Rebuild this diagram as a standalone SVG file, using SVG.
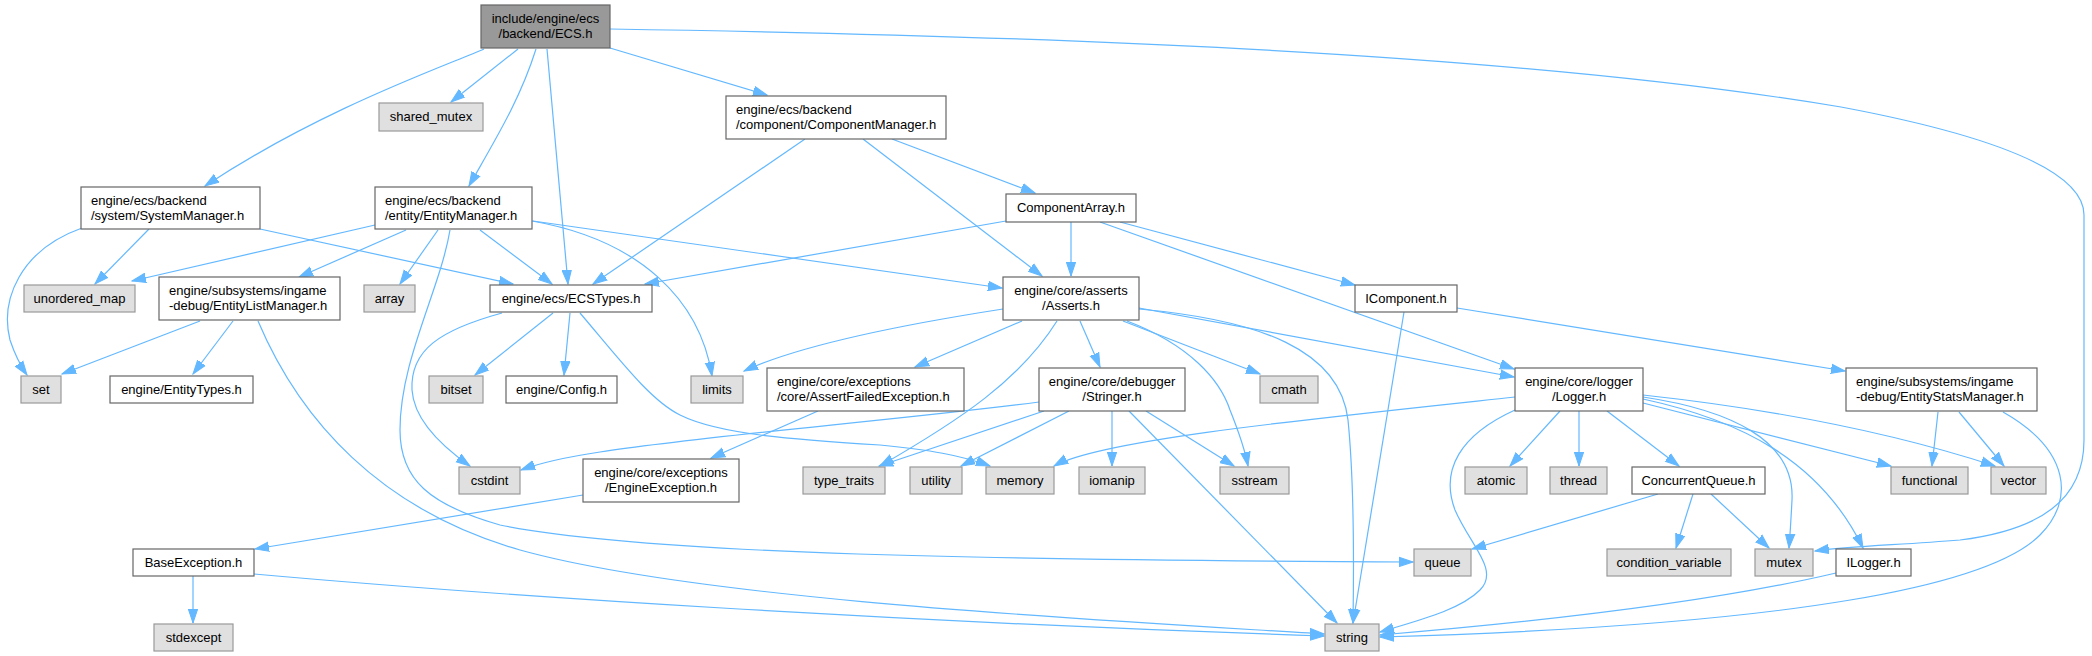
<svg xmlns="http://www.w3.org/2000/svg" width="2092" height="656" viewBox="0 0 2092 656">
<style>
text{font-family:"Liberation Sans",Arial,sans-serif;font-size:13px;fill:#000}
.c{text-anchor:middle}
.n rect{fill:#fff;stroke:#666;stroke-width:1.2}
.x rect{fill:#e0e0e0;stroke:#999;stroke-width:1.2}
.r rect{fill:#999;stroke:#666;stroke-width:1.2}
#edges path{fill:none;stroke:#63b8ff;stroke-width:1.2;marker-end:url(#a)}
</style>
<defs>
<marker id="a" markerWidth="15" markerHeight="11" refX="14" refY="5.5" orient="auto" markerUnits="userSpaceOnUse">
<path d="M0,0.8 L14,5.5 L0,10.2 z" fill="#63b8ff" stroke="#63b8ff" stroke-width="1"/>
</marker>
</defs>
<rect width="2092" height="656" fill="#fff"/>
<g id="edges">
<path d="M484,49 C440,68 320,110 205,186"/>
<path d="M518,49 L451,102"/>
<path d="M536,49 C520,100 495,140 469,186"/>
<path d="M547,49 L568,284"/>
<path d="M610,48 L767,95"/>
<path d="M610,29 C1000,35 1500,50 1841,107 C1990,135 2084,170 2084,215 L2084,440 C2084,500 2040,530 1960,540 C1900,545 1850,546 1815,551"/>
<path d="M149,229 L95,284"/>
<path d="M82,228 C20,250 0,300 10,340 C15,355 20,365 27,375"/>
<path d="M260,229 L513,284"/>
<path d="M375,225 L132,281"/>
<path d="M406,230 L299,277"/>
<path d="M438,230 L400,284"/>
<path d="M480,230 L552,284"/>
<path d="M532,221 C640,240 700,300 712,376"/>
<path d="M533,221 L1002,288"/>
<path d="M450,230 C440,290 400,360 400,430 C400,480 430,505 500,525 C650,555 1000,560 1413,562"/>
<path d="M200,321 L62,374"/>
<path d="M233,321 L193,374"/>
<path d="M258,321 C300,420 380,510 520,550 C700,600 1100,620 1324,634"/>
<path d="M502,313 C440,330 410,350 412,390 C414,420 440,445 470,466"/>
<path d="M553,313 L475,375"/>
<path d="M570,313 L564,375"/>
<path d="M580,313 C620,360 650,400 680,415 C720,435 800,440 880,445 C930,450 960,455 990,466"/>
<path d="M805,139 L593,284"/>
<path d="M863,139 L1042,276"/>
<path d="M892,139 L1035,193"/>
<path d="M1006,221 L645,284"/>
<path d="M1071,222 L1071,276"/>
<path d="M1120,222 L1355,285"/>
<path d="M1100,222 L1514,369"/>
<path d="M1404,312 L1353,623"/>
<path d="M1457,308 L1845,371"/>
<path d="M1003,309 C900,325 800,345 744,371"/>
<path d="M1022,321 L915,367"/>
<path d="M1057,321 C1020,380 960,420 880,466"/>
<path d="M1080,321 L1100,367"/>
<path d="M1123,321 L1260,374"/>
<path d="M1127,321 C1190,345 1220,380 1230,410 C1240,435 1245,450 1248,466"/>
<path d="M1139,309 C1260,320 1340,350 1348,420 C1354,480 1354,560 1353,623"/>
<path d="M1139,308 L1514,377"/>
<path d="M1039,402 C900,420 700,436 600,452 C560,458 540,463 521,470"/>
<path d="M1044,411 L879,466"/>
<path d="M1069,411 L961,466"/>
<path d="M1112,411 L1112,466"/>
<path d="M1146,411 L1234,466"/>
<path d="M1129,411 L1337,623"/>
<path d="M818,411 L711,458"/>
<path d="M583,495 L255,549"/>
<path d="M193,576 L193,623"/>
<path d="M254,574 C500,596 900,622 1324,636"/>
<path d="M1515,397 C1300,420 1100,440 1054,466"/>
<path d="M1515,410 C1460,435 1440,470 1455,510 C1470,545 1500,570 1480,590 C1460,610 1420,620 1380,632"/>
<path d="M1560,411 L1510,466"/>
<path d="M1579,411 L1579,466"/>
<path d="M1607,411 L1679,466"/>
<path d="M1643,397 C1730,410 1795,440 1792,500 C1791,520 1790,535 1789,548"/>
<path d="M1643,399 C1740,420 1820,460 1863,548"/>
<path d="M1643,403 L1891,466"/>
<path d="M1643,395 C1780,410 1900,435 1995,466"/>
<path d="M1658,494 L1472,549"/>
<path d="M1693,494 L1676,548"/>
<path d="M1711,494 L1769,548"/>
<path d="M1836,573 C1700,605 1500,625 1380,635"/>
<path d="M1938,412 L1932,466"/>
<path d="M1959,412 L2004,466"/>
<path d="M2003,412 C2070,450 2075,500 2040,535 C1990,585 1800,625 1380,637"/>
</g>
<g id="ecs" class="r"><rect x="481" y="5" width="129" height="43"/><text class="c" x="545.5" y="23">include/engine/ecs</text><text class="c" x="545.5" y="38">/backend/ECS.h</text></g>
<g id="shared_mutex" class="x"><rect x="379" y="103" width="104" height="28"/><text class="c" x="431" y="121">shared_mutex</text></g>
<g id="systemmanager" class="n"><rect x="81" y="187" width="179" height="42"/><text x="91" y="205">engine/ecs/backend</text><text x="91" y="220">/system/SystemManager.h</text></g>
<g id="entitymanager" class="n"><rect x="375" y="187" width="157" height="42"/><text x="385" y="205">engine/ecs/backend</text><text x="385" y="220">/entity/EntityManager.h</text></g>
<g id="componentmanager" class="n"><rect x="726" y="96" width="220" height="43"/><text x="736" y="114">engine/ecs/backend</text><text x="736" y="129">/component/ComponentManager.h</text></g>
<g id="unordered_map" class="x"><rect x="24" y="285" width="111" height="27"/><text class="c" x="79.5" y="303">unordered_map</text></g>
<g id="entitylistmanager" class="n"><rect x="159" y="277" width="181" height="43"/><text x="169" y="295">engine/subsystems/ingame</text><text x="169" y="310">-debug/EntityListManager.h</text></g>
<g id="array" class="x"><rect x="364" y="285" width="51" height="27"/><text class="c" x="389.5" y="303">array</text></g>
<g id="ecstypes" class="n"><rect x="490" y="285" width="162" height="27"/><text class="c" x="571" y="303">engine/ecs/ECSTypes.h</text></g>
<g id="componentarray" class="n"><rect x="1006" y="194" width="130" height="28"/><text class="c" x="1071" y="212">ComponentArray.h</text></g>
<g id="asserts" class="n"><rect x="1003" y="277" width="136" height="43"/><text class="c" x="1071" y="295">engine/core/asserts</text><text class="c" x="1071" y="310">/Asserts.h</text></g>
<g id="icomponent" class="n"><rect x="1355" y="285" width="102" height="27"/><text class="c" x="1406" y="303">IComponent.h</text></g>
<g id="set" class="x"><rect x="21" y="376" width="40" height="27"/><text class="c" x="41" y="394">set</text></g>
<g id="entitytypes" class="n"><rect x="110" y="376" width="143" height="27"/><text class="c" x="181.5" y="394">engine/EntityTypes.h</text></g>
<g id="bitset" class="x"><rect x="429" y="376" width="54" height="27"/><text class="c" x="456" y="394">bitset</text></g>
<g id="config" class="n"><rect x="506" y="376" width="111" height="27"/><text class="c" x="561.5" y="394">engine/Config.h</text></g>
<g id="limits" class="x"><rect x="691" y="376" width="52" height="27"/><text class="c" x="717" y="394">limits</text></g>
<g id="assertfailedexception" class="n"><rect x="767" y="368" width="197" height="43"/><text x="777" y="386">engine/core/exceptions</text><text x="777" y="401">/core/AssertFailedException.h</text></g>
<g id="stringer" class="n"><rect x="1039" y="368" width="146" height="43"/><text class="c" x="1112" y="386">engine/core/debugger</text><text class="c" x="1112" y="401">/Stringer.h</text></g>
<g id="cmath" class="x"><rect x="1260" y="376" width="58" height="27"/><text class="c" x="1289" y="394">cmath</text></g>
<g id="logger" class="n"><rect x="1515" y="368" width="128" height="43"/><text class="c" x="1579" y="386">engine/core/logger</text><text class="c" x="1579" y="401">/Logger.h</text></g>
<g id="entitystatsmanager" class="n"><rect x="1846" y="368" width="191" height="43"/><text x="1856" y="386">engine/subsystems/ingame</text><text x="1856" y="401">-debug/EntityStatsManager.h</text></g>
<g id="cstdint" class="x"><rect x="459" y="467" width="61" height="27"/><text class="c" x="489.5" y="485">cstdint</text></g>
<g id="engineexception" class="n"><rect x="583" y="459" width="156" height="43"/><text class="c" x="661" y="477">engine/core/exceptions</text><text class="c" x="661" y="492">/EngineException.h</text></g>
<g id="type_traits" class="x"><rect x="803" y="467" width="82" height="27"/><text class="c" x="844" y="485">type_traits</text></g>
<g id="utility" class="x"><rect x="910" y="467" width="52" height="27"/><text class="c" x="936" y="485">utility</text></g>
<g id="memory" class="x"><rect x="986" y="467" width="68" height="27"/><text class="c" x="1020" y="485">memory</text></g>
<g id="iomanip" class="x"><rect x="1079" y="467" width="66" height="27"/><text class="c" x="1112" y="485">iomanip</text></g>
<g id="sstream" class="x"><rect x="1220" y="467" width="69" height="27"/><text class="c" x="1254.5" y="485">sstream</text></g>
<g id="atomic" class="x"><rect x="1465" y="467" width="62" height="27"/><text class="c" x="1496" y="485">atomic</text></g>
<g id="thread" class="x"><rect x="1550" y="467" width="57" height="27"/><text class="c" x="1578.5" y="485">thread</text></g>
<g id="concurrentqueue" class="n"><rect x="1632" y="467" width="133" height="27"/><text class="c" x="1698.5" y="485">ConcurrentQueue.h</text></g>
<g id="functional" class="x"><rect x="1891" y="467" width="77" height="27"/><text class="c" x="1929.5" y="485">functional</text></g>
<g id="vector" class="x"><rect x="1991" y="467" width="55" height="27"/><text class="c" x="2018.5" y="485">vector</text></g>
<g id="baseexception" class="n"><rect x="133" y="549" width="121" height="27"/><text class="c" x="193.5" y="567">BaseException.h</text></g>
<g id="queue" class="x"><rect x="1414" y="549" width="57" height="27"/><text class="c" x="1442.5" y="567">queue</text></g>
<g id="condition_variable" class="x"><rect x="1607" y="549" width="124" height="27"/><text class="c" x="1669" y="567">condition_variable</text></g>
<g id="mutex" class="x"><rect x="1755" y="549" width="58" height="27"/><text class="c" x="1784" y="567">mutex</text></g>
<g id="ilogger" class="n"><rect x="1836" y="549" width="75" height="27"/><text class="c" x="1873.5" y="567">ILogger.h</text></g>
<g id="stdexcept" class="x"><rect x="154" y="624" width="79" height="27"/><text class="c" x="193.5" y="642">stdexcept</text></g>
<g id="string" class="x"><rect x="1325" y="624" width="54" height="27"/><text class="c" x="1352" y="642">string</text></g>
</svg>
